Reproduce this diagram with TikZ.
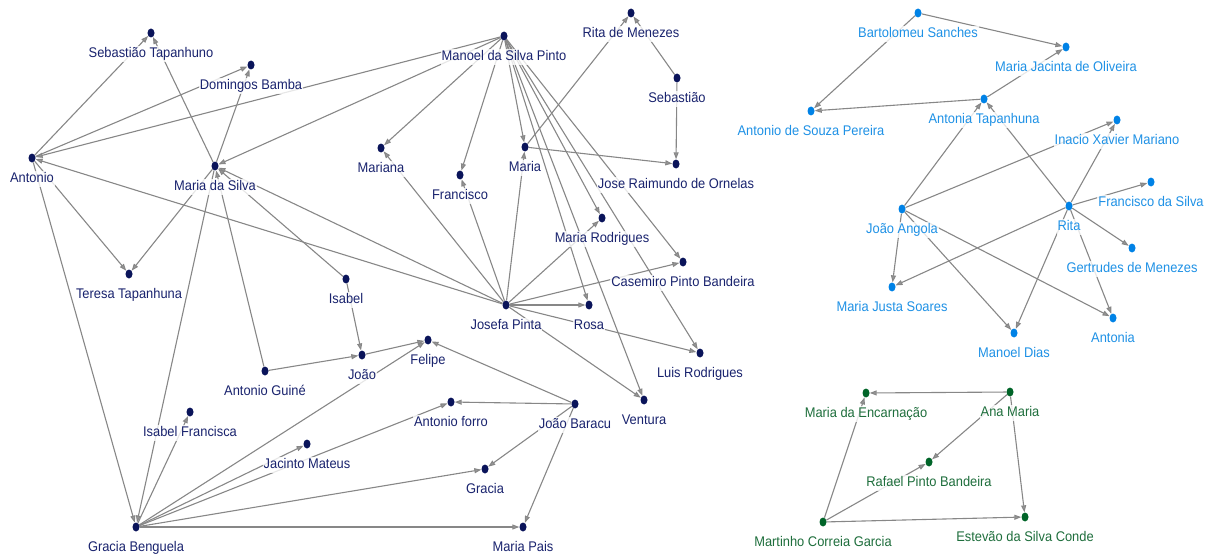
\documentclass[tikz,border=0pt]{standalone}
\usepackage{fontspec}
\setmainfont{Liberation Sans}[FakeStretch=0.92]
\usetikzlibrary{arrows.meta,positioning,shapes.geometric,backgrounds}

\definecolor{navydot}{RGB}{10,20,90}
\definecolor{navytxt}{RGB}{25,35,110}
\definecolor{bluedot}{RGB}{0,130,230}
\definecolor{bluetxt}{RGB}{30,145,230}
\definecolor{greendot}{RGB}{0,100,40}
\definecolor{greentxt}{RGB}{30,110,60}
\definecolor{edgegray}{RGB}{135,135,135}

\tikzset{
  dotbase/.style={ellipse,minimum width=7pt,minimum height=9pt,inner sep=0pt},
  ndot/.style={dotbase,fill=navydot},
  bdot/.style={dotbase,fill=bluedot},
  gdot/.style={dotbase,fill=greendot},
  lblbase/.style={font=\fontsize{14}{16}\selectfont,inner sep=1pt,text height=10.5pt,text depth=3pt,
    fill=white,fill opacity=.8,text opacity=1},
  nlbl/.style={lblbase,text=navytxt},
  blbl/.style={lblbase,text=bluetxt},
  glbl/.style={lblbase,text=greentxt},
  tie/.style={draw=edgegray,line width=1.1pt,-{Triangle[length=7pt,width=5pt,fill=edgegray!85]}}
}

\begin{document}
\begin{tikzpicture}[x=1pt,y=-1pt]
  \useasboundingbox (0,0) rectangle (1209,559);

  % left network
  \foreach \n/\x/\y/\t in {sebt/151/33/Sebastião Tapanhuno, domb/251/65/Domingos Bamba,
      anto/32/158/Antonio, mdsil/215/166/Maria da Silva, manoel/504/36/Manoel da Silva Pinto,
      ritam/631/13/Rita de Menezes, sebas/677/78/Sebastião, mariana/381/148/Mariana,
      franc/460/175/Francisco, maria/525/147/Maria, jose/676/164/Jose Raimundo de Ornelas,
      mrod/602/218/Maria Rodrigues, casem/683/262/Casemiro Pinto Bandeira,
      teresa/129/274/Teresa Tapanhuna, isabel/346/279/Isabel, josefa/506/305/Josefa Pinta,
      rosa/589/305/Rosa, luis/700/353/Luis Rodrigues, aguine/265/371/Antonio Guiné,
      joao/362/355/João, felipe/428/340/Felipe, aforro/451/402/Antonio forro,
      jbaracu/575/404/João Baracu, ventura/644/400/Ventura, isabf/190/412/Isabel Francisca,
      jacinto/307/444/Jacinto Mateus, gracia/485/469/Gracia, gbeng/136/527/Gracia Benguela,
      mpais/523/527/Maria Pais}{
    \node[ndot] (\n) at (\x,\y) {};
    \node[nlbl,below=8.5pt of \n] (\n-l) {\t};
  }

  % upper right network
  \foreach \n/\x/\y/\t in {barto/918/13/Bartolomeu Sanches, mjoli/1066/47/Maria Jacinta de Oliveira,
      asouza/811/111/Antonio de Souza Pereira, atapa/984/99/Antonia Tapanhuna,
      inacio/1117/120/Inacio Xavier Mariano, fsilva/1151/182/Francisco da Silva,
      jangola/902/209/João Angola, rita/1069/206/Rita, gertr/1132/248/Gertrudes de Menezes,
      mjusta/892/287/Maria Justa Soares, mdias/1014/333/Manoel Dias, antonia/1113/318/Antonia}{
    \node[bdot] (\n) at (\x,\y) {};
    \node[blbl,below=8.5pt of \n] (\n-l) {\t};
  }

  % lower right network
  \foreach \n/\x/\y/\t in {mencar/866/393/Maria da Encarnação, anam/1010/392/Ana Maria,
      rafael/929/462/Rafael Pinto Bandeira, martinho/823/522/Martinho Correia Garcia,
      estevao/1025/517/Estevão da Silva Conde}{
    \node[gdot] (\n) at (\x,\y) {};
    \node[glbl,below=8.5pt of \n] (\n-l) {\t};
  }

  \begin{scope}[on background layer]
    \foreach \a/\b in {anto/sebt, mdsil/sebt, anto/domb, mdsil/domb, manoel/anto, manoel/mdsil,
        josefa/anto, josefa/mdsil, anto/teresa, mdsil/teresa, anto/gbeng, mdsil/gbeng,
        isabel/mdsil, aguine/mdsil, manoel/mariana, manoel/franc, manoel/maria, manoel/mrod,
        manoel/rosa, manoel/ventura, manoel/casem, manoel/luis, maria/ritam, sebas/ritam,
        sebas/jose, maria/jose, josefa/mariana, josefa/franc, josefa/maria, josefa/mrod,
        josefa/casem, josefa/rosa, josefa/luis, josefa/ventura, isabel/joao, aguine/joao,
        joao/felipe, jbaracu/felipe, jbaracu/aforro, jbaracu/gracia, jbaracu/mpais,
        gbeng/isabf, gbeng/felipe, gbeng/jacinto, gbeng/aforro, gbeng/gracia, gbeng/mpais,
        barto/mjoli, barto/asouza, atapa/asouza, atapa/mjoli, jangola/atapa, rita/atapa,
        jangola/inacio, rita/inacio, rita/fsilva, rita/gertr, rita/antonia, rita/mdias,
        rita/mjusta, jangola/mjusta, jangola/mdias, jangola/antonia,
        anam/mencar, anam/rafael, anam/estevao, martinho/mencar, martinho/rafael, martinho/estevao}
      \draw[tie] (\a) -- (\b);
  \end{scope}
\end{tikzpicture}
\end{document}
